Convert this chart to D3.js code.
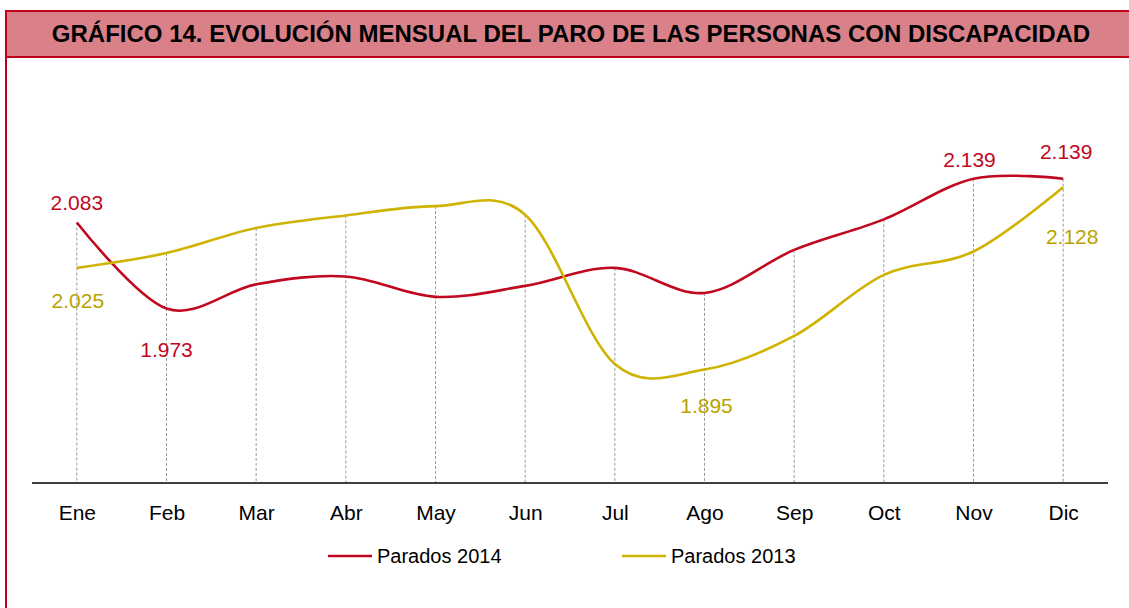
<!DOCTYPE html>
<html lang="es">
<head>
<meta charset="utf-8">
<title>Gráfico 14</title>
<script src="https://d3js.org/d3.v7.min.js"></script>
<style>
  body { margin: 0; background: #fff; }
  svg { display: block; font-family: Arial, "Liberation Sans", sans-serif; }
</style>
</head>
<body>
<svg id="chart" width="1129" height="608"></svg>
<script>
// data
var months = ["Ene", "Feb", "Mar", "Abr", "May", "Jun", "Jul", "Ago", "Sep", "Oct", "Nov", "Dic"];
var parados2014 = [2083, 1973, 2004, 2014, 1988, 2002, 2025, 1993, 2048, 2087, 2139, 2139];
var parados2013 = [2025, 2044, 2076, 2092, 2104, 2093, 1902, 1895, 1938, 2016, 2046, 2128];
var seriesNames = ["Parados 2014", "Parados 2013"];
var title = "GRÁFICO 14. EVOLUCIÓN MENSUAL DEL PARO DE LAS PERSONAS CON DISCAPACIDAD";

// which points carry a value label (series index, month index, offset)
var labelled = [
  { s: 0, i: 0, dx: 0, dy: -20 },
  { s: 0, i: 1, dx: 0, dy: 41 },
  { s: 0, i: 10, dx: -4, dy: -19 },
  { s: 0, i: 11, dx: 3, dy: -27 },
  { s: 1, i: 0, dx: 1, dy: 33 },
  { s: 1, i: 7, dx: 2, dy: 36 },
  { s: 1, i: 11, dx: 9, dy: 49 }
];

var lineColors = ["#c0081f", "#cfb300"];
var labelColors = ["#c0081f", "#b9a200"];
var series = [parados2014, parados2013];

var svg = d3.select("#chart");

// frame + title bar
svg.append("line")
  .attr("x1", 6).attr("x2", 6).attr("y1", 11).attr("y2", 608)
  .attr("stroke", "#c0001a").attr("stroke-width", 2);
svg.append("rect")
  .attr("x", 6).attr("y", 11).attr("width", 1140).attr("height", 46)
  .attr("fill", "#d98089").attr("stroke", "#c0001a").attr("stroke-width", 2);
svg.append("text")
  .attr("x", 571).attr("y", 42)
  .attr("text-anchor", "middle")
  .style("font-size", "24px").style("font-weight", "bold")
  .attr("fill", "#000")
  .text(title);

var x = d3.scalePoint().domain(months).range([32, 1108]).padding(0.5);
var y = d3.scaleLinear().domain([1750, 2200]).range([483, 131]);

// drop lines
svg.append("g").selectAll("line")
  .data(months)
  .enter().append("line")
  .attr("x1", function(d) { return x(d); })
  .attr("x2", function(d) { return x(d); })
  .attr("y1", function(d, i) { return y(Math.max(parados2014[i], parados2013[i])); })
  .attr("y2", y(1750))
  .attr("stroke", "#9a9a9a")
  .attr("stroke-width", 1)
  .attr("stroke-dasharray", "3,2");

// category axis
var xAxis = svg.append("g")
  .attr("transform", "translate(0," + y(1750) + ")")
  .call(d3.axisBottom(x).tickSize(0).tickPadding(22));
xAxis.select(".domain").attr("stroke", "#000").attr("stroke-width", 1.5)
  .attr("d", "M32,0H1108");
xAxis.selectAll("text")
  .style("font-size", "21px")
  .style("font-family", "Arial, 'Liberation Sans', sans-serif")
  .attr("fill", "#000");

// smooth lines
var line = d3.line()
  .x(function(d, i) { return x(months[i]); })
  .y(function(d) { return y(d); })
  .curve(d3.curveCardinal.tension(0));

series.forEach(function(s, k) {
  svg.append("path")
    .datum(s)
    .attr("fill", "none")
    .attr("stroke", lineColors[k])
    .attr("stroke-width", 2.6)
    .attr("d", line);
});

// value labels
var fmt = function(v) { return d3.format(",")(v).replace(",", "."); };
svg.append("g").selectAll("text")
  .data(labelled)
  .enter().append("text")
  .attr("x", function(d) { return x(months[d.i]) + d.dx; })
  .attr("y", function(d) { return y(series[d.s][d.i]) + d.dy; })
  .attr("dy", "0.35em")
  .attr("text-anchor", "middle")
  .style("font-size", "21px")
  .attr("fill", function(d) { return labelColors[d.s]; })
  .text(function(d) { return fmt(series[d.s][d.i]); });

// legend
var legendX = [328, 622];
var legend = svg.append("g").selectAll("g")
  .data(seriesNames)
  .enter().append("g")
  .attr("transform", function(d, i) { return "translate(" + legendX[i] + ",556)"; });
legend.append("line")
  .attr("x1", 0).attr("x2", 44)
  .attr("stroke", function(d, i) { return lineColors[i]; })
  .attr("stroke-width", 2.6);
legend.append("text")
  .attr("x", 49).attr("y", 7)
  .style("font-size", "20px")
  .attr("fill", "#000")
  .text(function(d) { return d; });
</script>
</body>
</html>
